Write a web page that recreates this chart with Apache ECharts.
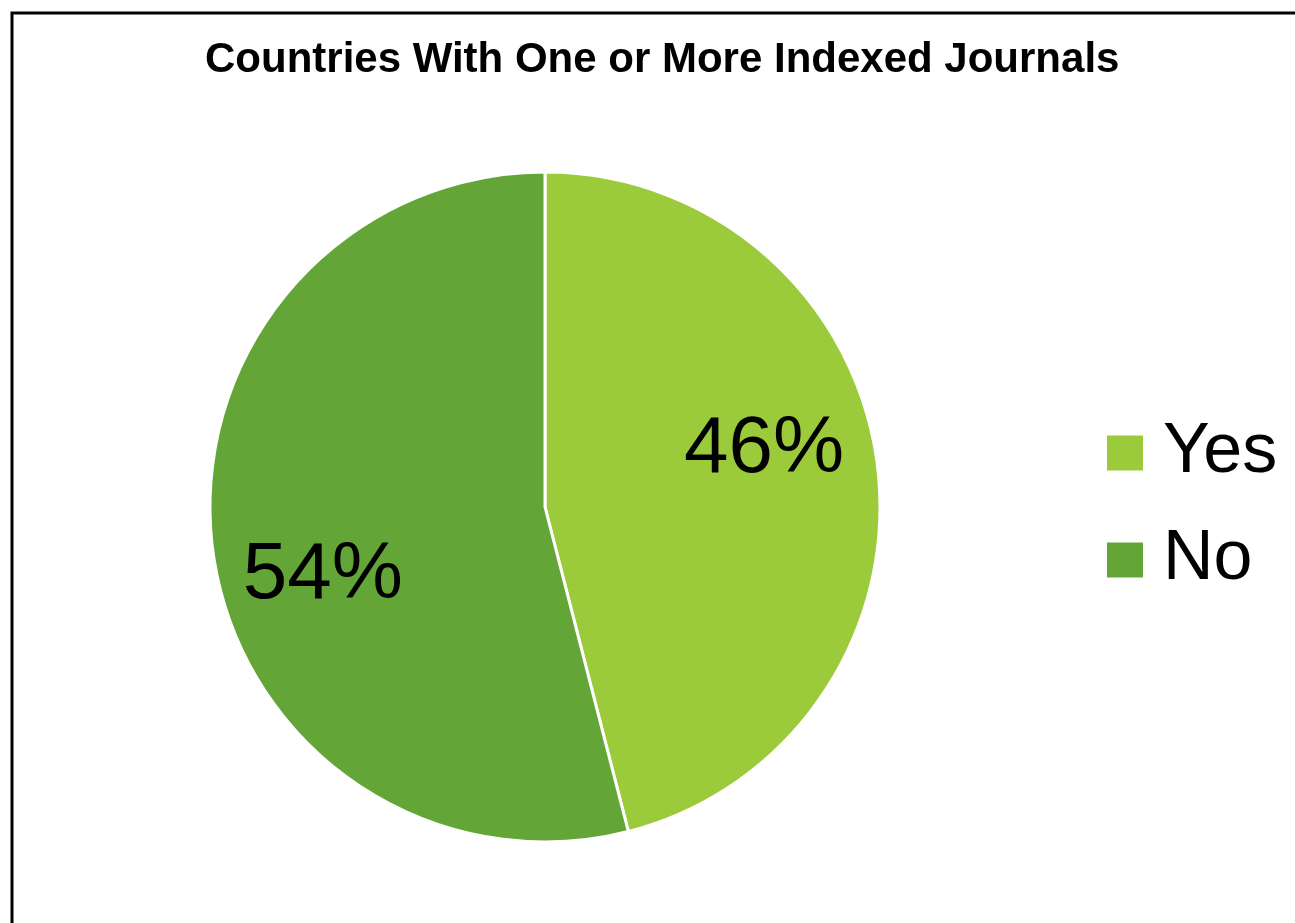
<!DOCTYPE html>
<html>
<head>
<meta charset="utf-8">
<title>Countries With One or More Indexed Journals</title>
<script src="https://cdn.jsdelivr.net/npm/echarts@6/dist/echarts.min.js"></script>
<style>
  html, body { margin: 0; padding: 0; background: #fff; }
  #chart { width: 1295px; height: 923px; }
</style>
</head>
<body>
<div id="chart"></div>
<script>
const categories = ['Yes', 'No'];
const shares = [46, 54];
const sliceColors = ['#9BCB3B', '#64A537'];

// hand-tuned nudges so the labels sit where the original (Excel best-fit) put them
const labelOffsets = [[50, -36], [-53, 48]];

const chart = echarts.init(document.getElementById('chart'));

const option = {
  animation: false,
  backgroundColor: '#fff',
  title: {
    text: 'Countries With One or More Indexed Journals',
    left: 205,
    top: 39,
    padding: 0,
    textStyle: {
      fontFamily: 'Liberation Sans',
      fontWeight: 'bold',
      fontSize: 42,
      color: '#000'
    }
  },
  legend: {
    orient: 'vertical',
    left: 1105,
    top: 418,
    padding: 0,
    itemWidth: 38,
    itemHeight: 37,
    itemGap: 37,
    icon: 'rect',
    data: categories,
    textStyle: {
      fontFamily: 'Liberation Sans',
      fontSize: 70,
      color: '#000',
      padding: [0, 0, 0, 14]
    }
  },
  graphic: [{
    type: 'rect',
    shape: { x: 12, y: 13, width: 2000, height: 2000 },
    style: { fill: 'none', stroke: '#000', lineWidth: 3 },
    silent: true
  }],
  series: [{
    type: 'pie',
    center: [545, 507],
    radius: 335,
    startAngle: 90,
    clockwise: true,
    itemStyle: { borderColor: '#fff', borderWidth: 3 },
    label: {
      show: true,
      position: 'inside',
      formatter: '{d}%',
      fontFamily: 'Liberation Sans',
      fontSize: 80,
      color: '#000'
    },
    labelLine: { show: false },
    emphasis: { disabled: true },
    data: categories.map((name, i) => ({
      name: name,
      value: shares[i],
      itemStyle: { color: sliceColors[i] },
      label: { offset: labelOffsets[i] }
    }))
  }]
};

chart.setOption(option);
</script>
</body>
</html>
